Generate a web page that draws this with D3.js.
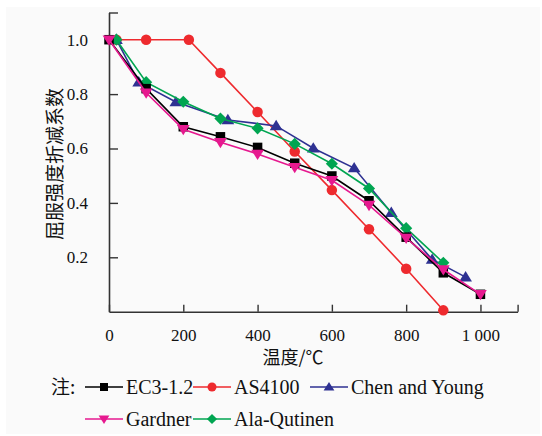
<!DOCTYPE html>
<html><head><meta charset="utf-8">
<script src="https://cdn.jsdelivr.net/npm/d3@7"></script>
<style>body{margin:0;background:#fff}svg{display:block}
.serif{font-family:"Liberation Serif","Times New Roman","DejaVu Serif",serif}
.cjk{font-family:"Noto Sans CJK SC","Noto Sans CJK JP",sans-serif}
</style>
</head><body>
<script>
const xTicks = [0, 200, 400, 600, 800, 1000, 1100];
const xTickLabels = ["0", "200", "400", "600", "800", "1 000", ""];
const yTicks = [0.2, 0.4, 0.6, 0.8, 1.0, 1.1];
const yTickLabels = ["0.2", "0.4", "0.6", "0.8", "1.0", ""];

const ec3T = [0, 100, 200, 300, 400, 500, 600, 700, 800, 900, 1000];
const ec3V = [1.0, 0.82, 0.68, 0.643, 0.604, 0.546, 0.499, 0.408, 0.274, 0.143, 0.064];
const asT = [20, 100, 215, 300, 400, 500, 600, 700, 800, 900];
const asV = [1.0, 1.0, 1.0, 0.878, 0.734, 0.589, 0.447, 0.303, 0.158, 0.005];
const cyT = [20, 80, 180, 320, 450, 550, 660, 760, 870, 960];
const cyV = [1.0, 0.844, 0.771, 0.705, 0.683, 0.601, 0.528, 0.364, 0.192, 0.127];
const gaT = [0, 100, 200, 300, 400, 500, 600, 700, 800, 900, 1000];
const gaV = [1.0, 0.805, 0.671, 0.623, 0.58, 0.531, 0.483, 0.392, 0.271, 0.155, 0.064];
const aqT = [20, 100, 200, 300, 400, 500, 600, 700, 800, 900];
const aqV = [1.0, 0.844, 0.772, 0.71, 0.674, 0.617, 0.544, 0.453, 0.307, 0.18];

const seriesNames = ["EC3-1.2", "AS4100", "Chen and Young", "Gardner", "Ala-Qutinen"];
const seriesColors = ["#000000", "#ee2a2e", "#2e3192", "#e6198f", "#00a551"];
const seriesSymbols = ["square", "circle", "triUp", "triDown", "diamond"];
const seriesT = [ec3T, asT, cyT, gaT, aqT];
const seriesV = [ec3V, asV, cyV, gaV, aqV];
const drawOrder = [1, 2, 4, 0, 3];

const W = 542, H = 436;
const svg = d3.select("body").append("svg").attr("width", W).attr("height", H);
svg.append("rect").attr("x", 6).attr("y", 7).attr("width", 534).attr("height", 427).attr("fill", "#fafafa");

const x = d3.scaleLinear().domain([0, 1100]).range([109, 517.6]);
const y = d3.scaleLinear().domain([0, 1.1]).range([311.7, 12.5]);

// axes
const xAxis = d3.axisBottom(x).tickValues(xTicks).tickSizeInner(-7).tickSizeOuter(0)
  .tickFormat((d, i) => xTickLabels[i]).tickPadding(17);
const gx = svg.append("g").attr("transform", `translate(0,${y(0)})`).call(xAxis);
const yAxis = d3.axisLeft(y).tickValues(yTicks).tickSizeInner(-9).tickSizeOuter(0)
  .tickFormat((d, i) => yTickLabels[i]).tickPadding(21);
const gy = svg.append("g").attr("transform", `translate(${x(0)},0)`).call(yAxis);
[gx, gy].forEach(g => {
  g.attr("font-family", null).attr("font-size", null);
  g.select(".domain").attr("stroke", "#333").attr("stroke-width", 1.6);
  g.selectAll(".tick line").attr("stroke", "#333").attr("stroke-width", 1.4);
  g.selectAll("text").attr("class", "serif").style("font-size", "17px").attr("fill", "#111");
});

// symbols
function sym(type, s) {
  switch (type) {
    case "square": return d3.symbol(d3.symbolSquare, s * s)();
    case "circle": return d3.symbol(d3.symbolCircle, Math.PI * (s / 2 + 0.5) ** 2)();
    case "diamond": { const r = s * 0.64; return `M0,${-r}L${r},0L0,${r}L${-r},0Z`; }
    case "triUp": { const r = s * 0.64; return `M0,${-r}L${r * 1.05},${r * 0.7}L${-r * 1.05},${r * 0.7}Z`; }
    case "triDown": { const r = s * 0.64; return `M0,${r}L${r * 1.05},${-r * 0.7}L${-r * 1.05},${-r * 0.7}Z`; }
  }
}

const line = d3.line().x(d => x(d[0])).y(d => y(d[1]));
drawOrder.forEach(i => {
  const pts = seriesT[i].map((t, j) => [t, seriesV[i][j]]);
  const g = svg.append("g");
  g.append("path").datum(pts).attr("d", line).attr("fill", "none")
    .attr("stroke", seriesColors[i]).attr("stroke-width", 1.6);
  g.selectAll("path.m").data(pts).join("path").attr("class", "m")
    .attr("transform", d => `translate(${x(d[0])},${y(d[1])})`)
    .attr("d", sym(seriesSymbols[i], 9.5)).attr("fill", seriesColors[i]);
});

// axis titles
svg.append("text").attr("class", "cjk").attr("x", 293).attr("y", 364).attr("text-anchor", "middle")
  .style("font-size", "18px").attr("fill", "#111").text("温度/℃");
svg.append("text").attr("class", "cjk").attr("transform", "translate(62,164) rotate(-90)").attr("text-anchor", "middle")
  .style("font-size", "19px").attr("fill", "#111").text("屈服强度折减系数");

// legend
svg.append("text").attr("class", "cjk").attr("x", 51).attr("y", 394).style("font-size", "19px").attr("fill", "#111").text("注:");
const legPos = [[85, 387], [193, 387], [310, 387], [85, 419], [193, 419]];
seriesNames.forEach((name, i) => {
  const [lx, ly] = legPos[i];
  const g = svg.append("g");
  g.append("line").attr("x1", lx).attr("x2", lx + 38).attr("y1", ly).attr("y2", ly)
    .attr("stroke", seriesColors[i]).attr("stroke-width", 1.6);
  g.append("path").attr("transform", `translate(${lx + 19},${ly})`)
    .attr("d", sym(seriesSymbols[i], 8)).attr("fill", seriesColors[i]);
  g.append("text").attr("class", "serif").attr("x", lx + 41).attr("y", ly + 7)
    .style("font-size", "20px").attr("fill", "#111").text(name);
});
</script>
</body></html>
